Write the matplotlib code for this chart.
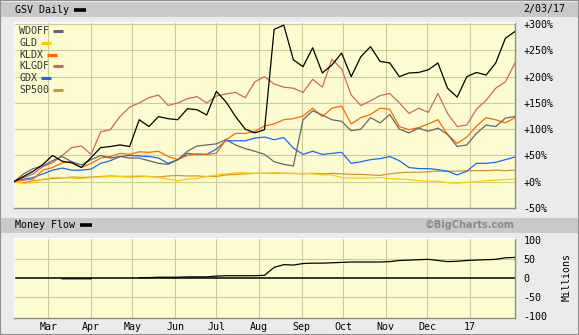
import numpy as np
import pandas as pd
import matplotlib
matplotlib.use('Agg')
import matplotlib.pyplot as plt
from matplotlib.patches import Rectangle
from matplotlib.lines import Line2D

# weekly closes, % change since 2/05/16
dates = pd.date_range('2016-02-05', '2017-02-03', freq='W-FRI')

gsv = [0, 10, 20, 33, 50, 39, 36, 27, 46, 65, 67, 70, 67, 118, 105, 124, 120, 118,
       139, 137, 127, 172, 152, 124, 100, 93, 99, 290, 298, 232, 219, 255, 207, 222,
       245, 200, 238, 257, 229, 226, 200, 207, 208, 213, 226, 178, 161, 200, 208, 203,
       226, 273, 286]
wdoff = [0, 15, 25, 30, 40, 48, 38, 32, 42, 50, 45, 48, 45, 45, 40, 35, 33, 42, 58, 68,
         70, 72, 80, 70, 63, 58, 52, 38, 33, 30, 118, 135, 127, 118, 115, 97, 100, 122,
         112, 128, 100, 93, 102, 96, 102, 90, 67, 70, 92, 108, 105, 121, 124]
gld = [0, -3, -2, 5, 8, 8, 7, 6, 8, 9, 10, 10, 11, 11, 10, 8, 5, 2, 5, 6, 10, 13, 15, 17,
       17, 16, 16, 17, 16, 15, 16, 15, 13, 13, 8, 7, 7, 7, 8, 6, 5, 4, 2, 1, 1, -2, -3,
       -1, 0, 2, 3, 4, 5]
kldx = [0, 3, 5, 22, 27, 36, 38, 27, 35, 45, 48, 54, 52, 57, 56, 58, 48, 42, 50, 53, 52,
        54, 80, 92, 92, 96, 106, 110, 118, 120, 125, 140, 124, 140, 144, 110, 122, 128,
        140, 138, 105, 99, 103, 110, 118, 90, 73, 85, 106, 122, 118, 112, 122]
klgdf = [0, 8, 15, 29, 36, 50, 65, 68, 52, 95, 99, 124, 142, 150, 160, 165, 145, 150,
         158, 162, 150, 163, 167, 170, 160, 190, 200, 186, 180, 178, 170, 195, 180, 233,
         215, 165, 145, 154, 164, 168, 150, 130, 140, 132, 168, 130, 105, 108, 138, 155,
         178, 190, 226]
gdx = [0, 5, 8, 15, 22, 26, 22, 22, 24, 35, 40, 48, 50, 49, 48, 45, 35, 42, 54, 52, 52,
       62, 78, 78, 78, 83, 85, 80, 84, 64, 52, 58, 52, 54, 56, 35, 38, 42, 44, 48, 40,
       27, 25, 25, 23, 20, 13, 20, 35, 35, 37, 42, 47]
sp500 = [0, -2, 2, 4, 6, 7, 9, 8, 9, 10, 11, 10, 9, 10, 10, 9, 11, 12, 11, 11, 10, 10,
         13, 14, 15, 16, 16, 16, 16, 16, 15, 16, 15, 16, 15, 14, 14, 13, 12, 15, 17, 18,
         18, 19, 20, 20, 20, 21, 21, 21, 22, 21, 22]
nan = np.nan
money_flow = [nan, nan, nan, nan, nan, -2, -2, -2, -2, nan, nan, nan, nan, 1, 1, 2, 2, 2,
              3, 3, 3, 5, 6, 6, 6, 6, 7, 28, 35, 34, 38, 39, 39, 40, 41, 42, 42, 42, 42,
              43, 46, 47, 48, 49, 46, 43, 44, 46, 47, 48, 49, 53, 54]

series_names = ['WDOFF', 'GLD', 'KLDX', 'KLGDF', 'GDX', 'SP500']
series_vals = [wdoff, gld, kldx, klgdf, gdx, sp500]
series_colors = ['#666666', '#ffcc00', '#ff6600', '#cc6666', '#1a66ff', '#cc9933']

pct_ticks = [300, 250, 200, 150, 100, 50, 0, -50]
pct_labels = ['+300%', '+250%', '+200%', '+150%', '+100%', '+50%', '+0%', '-50%']
mf_ticks = [100, 50, 0, -50, -100]
mf_labels = ['100', '50', '0', '-50', '-100']
month_ticks = pd.date_range('2016-03-01', '2017-01-01', freq='MS')
month_labels = ['Mar', 'Apr', 'May', 'Jun', 'Jul', 'Aug', 'Sep', 'Oct', 'Nov', 'Dec', '17']

W, H = 579, 335
mono = 'DejaVu Sans Mono'
fs = 7.2
bg = '#ebebeb'
bar = '#c9c9c9'
plotbg = '#fdfcd0'
gridc = '#cccc99'


def fx(px):
    return px / W


def fy(py):
    return 1 - py / H


fig = plt.figure(figsize=(W / 100, H / 100), dpi=100)
fig.patch.set_facecolor(bg)

# header bars
fig.patches.append(Rectangle((fx(1), fy(17)), fx(577), 15 / H, transform=fig.transFigure,
                             facecolor=bar, edgecolor='none', zorder=0))
fig.patches.append(Rectangle((fx(1), fy(233)), fx(577), 15 / H, transform=fig.transFigure,
                             facecolor=bar, edgecolor='none', zorder=0))
fig.patches.append(Rectangle((0, 0), 1, 1, transform=fig.transFigure, fill=False,
                             edgecolor='#8f8f8f', lw=1.5, zorder=1))

fig.text(fx(15), fy(10), 'GSV Daily', family=mono, fontsize=fs, va='center', ha='left')
fig.lines.append(Line2D([fx(74), fx(86)], [fy(10), fy(10)], transform=fig.transFigure,
                        color='black', lw=2.6, solid_capstyle='butt'))
fig.text(fx(565), fy(9), '2/03/17', family=mono, fontsize=fs, va='center', ha='right')

fig.text(fx(15), fy(225), 'Money Flow', family=mono, fontsize=fs, va='center', ha='left')
fig.lines.append(Line2D([fx(80), fx(92)], [fy(225), fy(225)], transform=fig.transFigure,
                        color='black', lw=2.6, solid_capstyle='butt'))
fig.text(fx(515), fy(225), '\u00a9BigCharts.com', family='DejaVu Sans', fontsize=7,
         fontweight='bold', color='#8a8a8a', va='center', ha='right')

ax1 = fig.add_axes([fx(14), fy(208), fx(515) - fx(14), fy(22) - fy(208)])
ax2 = fig.add_axes([fx(14), fy(318), fx(515) - fx(14), fy(238) - fy(318)])

for ax in (ax1, ax2):
    ax.set_facecolor(plotbg)
    ax.set_xlim(dates[0], dates[-1])
    ax.set_xticks(month_ticks)
    for t in month_ticks:
        ax.axvline(t, color=gridc, lw=0.8, zorder=1)
    ax.yaxis.tick_right()
    ax.tick_params(length=0, labelsize=fs, pad=6)
    for lab in ax.get_xticklabels() + ax.get_yticklabels():
        lab.set_family(mono)
    ax.spines['left'].set_color('#fafafa')
    ax.spines['top'].set_color('#fafafa')
    ax.spines['right'].set_color('#8c8c8c')
    ax.spines['bottom'].set_color('#8c8c8c')
    for s in ax.spines.values():
        s.set_linewidth(1)

# main panel
ax1.set_ylim(-50, 304)
ax1.set_yticks(pct_ticks)
ax1.set_yticklabels(pct_labels, family=mono)
ax1.set_xticklabels([])
for v in pct_ticks[:-1]:
    ax1.axhline(v, color=gridc, lw=0.8, zorder=1)

for name, vals, c in list(zip(series_names, series_vals, series_colors))[::-1]:
    ax1.plot(dates, vals, color=c, lw=0.9, zorder=3)
ax1.plot(dates, gsv, color='black', lw=0.9, zorder=4)

# legend: name followed by colour swatch
for i, (name, c) in enumerate(zip(series_names, series_colors)):
    py = 31 + 11.8 * i
    fig.text(fx(19), fy(py), name, family=mono, fontsize=fs, color='#333333',
             va='center', ha='left', zorder=5)
    x0 = 19 + len(name) * 6 + 4
    fig.lines.append(Line2D([fx(x0), fx(x0 + 10)], [fy(py), fy(py)],
                            transform=fig.transFigure, color=c, lw=2.2,
                            solid_capstyle='butt', zorder=5))

# money flow panel
ax2.set_ylim(-105, 105)
ax2.set_yticks(mf_ticks)
ax2.set_yticklabels(mf_labels, family=mono)
ax2.set_xticklabels(month_labels, family=mono)
ax2.tick_params(axis='x', pad=3)
for v in (50, -50):
    ax2.axhline(v, color=gridc, lw=0.8, zorder=1)
ax2.axhline(0, color='black', lw=1.1, zorder=2)
ax2.plot(dates, money_flow, color='black', lw=0.9, zorder=3)

fig.text(fx(567), fy(277), 'Millions', family=mono, fontsize=fs, rotation=90,
         va='center', ha='center')

fig.savefig('out.png', dpi=100, facecolor=fig.get_facecolor())
